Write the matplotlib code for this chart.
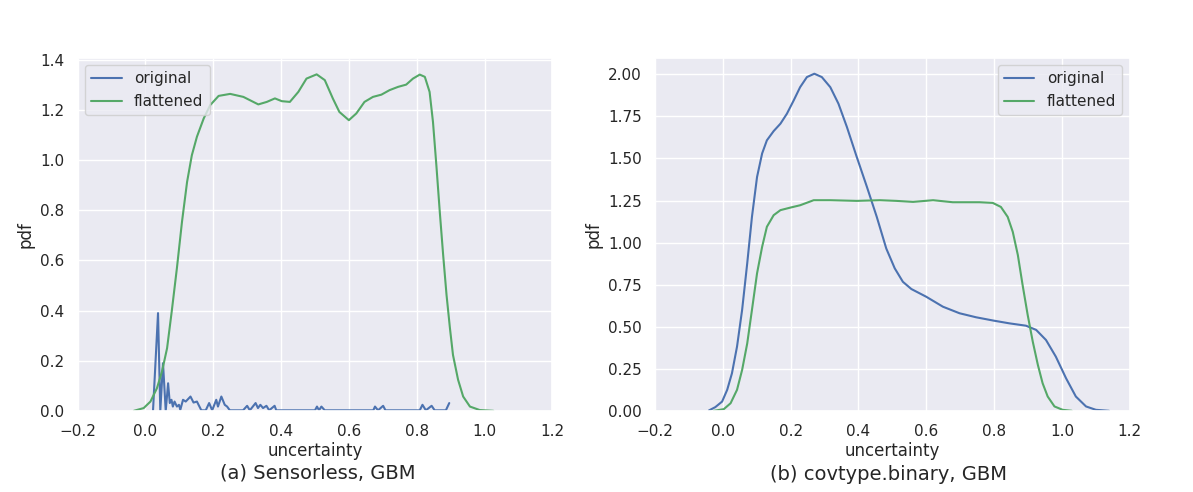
import numpy as np
import matplotlib
matplotlib.use('Agg')
import matplotlib.pyplot as plt
from matplotlib.ticker import FormatStrFormatter
import seaborn as sns

# -----------------------------------------------------------------------------
# values

# (a) Sensorless, GBM
sens_flat_x = [-0.034, -0.005, 0.015, 0.034, 0.049, 0.064, 0.078, 0.093, 0.108,
               0.123, 0.137, 0.152, 0.172, 0.191, 0.216, 0.25, 0.289, 0.333,
               0.358, 0.382, 0.402, 0.426, 0.451, 0.475, 0.505, 0.529, 0.553,
               0.572, 0.6, 0.622, 0.646, 0.671, 0.696, 0.72, 0.745, 0.769,
               0.789, 0.809, 0.824, 0.838, 0.848, 0.858, 0.868, 0.878, 0.888,
               0.898, 0.907, 0.922, 0.937, 0.957, 0.986, 1.026]
sens_flat_y = [0.0, 0.011, 0.037, 0.09, 0.157, 0.25, 0.40, 0.57, 0.755, 0.914,
               1.02, 1.094, 1.167, 1.22, 1.257, 1.265, 1.253, 1.223, 1.233,
               1.247, 1.236, 1.233, 1.273, 1.326, 1.343, 1.32, 1.246, 1.193,
               1.16, 1.187, 1.233, 1.253, 1.262, 1.28, 1.293, 1.302, 1.326,
               1.342, 1.333, 1.273, 1.153, 0.98, 0.795, 0.622, 0.462, 0.33,
               0.223, 0.124, 0.057, 0.017, 0.003, 0.0]

sens_orig_x = [0.0225, 0.0373, 0.044, 0.052, 0.060, 0.067, 0.072, 0.077, 0.081,
               0.086, 0.093, 0.099, 0.103, 0.111, 0.119, 0.133, 0.142, 0.152,
               0.165, 0.178, 0.188, 0.197, 0.209, 0.214, 0.224, 0.234, 0.241,
               0.249, 0.288, 0.300, 0.308, 0.325, 0.332, 0.339, 0.347, 0.357,
               0.365, 0.381, 0.386, 0.500, 0.506, 0.512, 0.519, 0.529, 0.672,
               0.677, 0.686, 0.701, 0.708, 0.809, 0.817, 0.827, 0.844, 0.853,
               0.886, 0.896]
sens_orig_y = [0.0, 0.39, 0.0, 0.19, 0.0, 0.11, 0.031, 0.044, 0.017, 0.037,
               0.017, 0.024, 0.004, 0.044, 0.037, 0.057, 0.033, 0.037, 0.002,
               0.002, 0.031, 0.002, 0.044, 0.017, 0.057, 0.024, 0.017, 0.002,
               0.002, 0.02, 0.002, 0.031, 0.011, 0.024, 0.011, 0.02, 0.002,
               0.02, 0.002, 0.002, 0.017, 0.002, 0.017, 0.002, 0.002, 0.017,
               0.002, 0.02, 0.002, 0.002, 0.024, 0.002, 0.02, 0.002, 0.002,
               0.031]

# (b) covtype.binary, GBM
cov_orig_x = [-0.041, -0.022, -0.002, 0.013, 0.027, 0.042, 0.057, 0.072, 0.086,
              0.101, 0.116, 0.13, 0.15, 0.17, 0.189, 0.209, 0.228, 0.248, 0.27,
              0.292, 0.317, 0.341, 0.366, 0.395, 0.425, 0.454, 0.482, 0.507,
              0.531, 0.556, 0.6, 0.649, 0.698, 0.747, 0.799, 0.845, 0.894,
              0.924, 0.953, 0.982, 1.012, 1.041, 1.071, 1.1, 1.139]
cov_orig_y = [0.002, 0.022, 0.055, 0.125, 0.223, 0.382, 0.6, 0.876, 1.153,
              1.39, 1.53, 1.608, 1.663, 1.707, 1.766, 1.845, 1.924, 1.984,
              2.004, 1.984, 1.924, 1.826, 1.687, 1.509, 1.331, 1.153, 0.965,
              0.847, 0.767, 0.724, 0.678, 0.619, 0.58, 0.556, 0.536, 0.52,
              0.506, 0.481, 0.421, 0.322, 0.194, 0.085, 0.026, 0.006, 0.0]

cov_flat_x = [-0.026, 0.003, 0.023, 0.042, 0.057, 0.072, 0.086, 0.101, 0.116,
              0.13, 0.15, 0.17, 0.199, 0.228, 0.268, 0.317, 0.395, 0.463,
              0.512, 0.561, 0.62, 0.678, 0.757, 0.796, 0.82, 0.84, 0.855, 0.87,
              0.884, 0.899, 0.914, 0.929, 0.943, 0.958, 0.978, 1.002, 1.029]
cov_flat_y = [0.0, 0.01, 0.045, 0.125, 0.243, 0.4, 0.6, 0.817, 0.975, 1.094,
              1.163, 1.193, 1.208, 1.222, 1.252, 1.252, 1.248, 1.252, 1.248,
              1.242, 1.252, 1.24, 1.24, 1.236, 1.212, 1.153, 1.064, 0.926,
              0.748, 0.57, 0.411, 0.273, 0.164, 0.085, 0.026, 0.006, 0.0]

# -----------------------------------------------------------------------------

sns.set_theme(style='darkgrid')
plt.rcParams['font.family'] = ['DejaVu Sans']
blue, green = sns.color_palette('deep')[0], sns.color_palette('deep')[2]

fig = plt.figure(figsize=(11.93, 4.92), dpi=100)
ax1 = fig.add_axes([0.065, 0.165, 0.398, 0.718])
ax2 = fig.add_axes([0.549, 0.165, 0.398, 0.718])

ax1.plot(sens_orig_x, sens_orig_y, color=blue, lw=1.5, label='original')
ax1.plot(sens_flat_x, sens_flat_y, color=green, lw=1.5, label='flattened')
ax1.set_xlim(-0.2, 1.2)
ax1.set_ylim(0, 1.41)
ax1.set_xticks(np.arange(-0.2, 1.21, 0.2))
ax1.set_yticks(np.arange(0, 1.41, 0.2))
ax1.legend(loc='upper left')

ax2.plot(cov_orig_x, cov_orig_y, color=blue, lw=1.5, label='original')
ax2.plot(cov_flat_x, cov_flat_y, color=green, lw=1.5, label='flattened')
ax2.set_xlim(-0.2, 1.2)
ax2.set_ylim(0, 2.1)
ax2.set_xticks(np.arange(-0.2, 1.21, 0.2))
ax2.set_yticks(np.arange(0, 2.01, 0.25))
ax2.yaxis.set_major_formatter(FormatStrFormatter('%.2f'))
ax2.legend(loc='upper right')

for ax in (ax1, ax2):
    ax.set_xlabel('uncertainty', labelpad=2)
    ax.set_ylabel('pdf')

fig.text(0.266, 0.028, '(a) Sensorless, GBM', ha='center', fontsize=14)
fig.text(0.745, 0.024, '(b) covtype.binary, GBM', ha='center', fontsize=14)

fig.savefig('out.png', dpi=100)
